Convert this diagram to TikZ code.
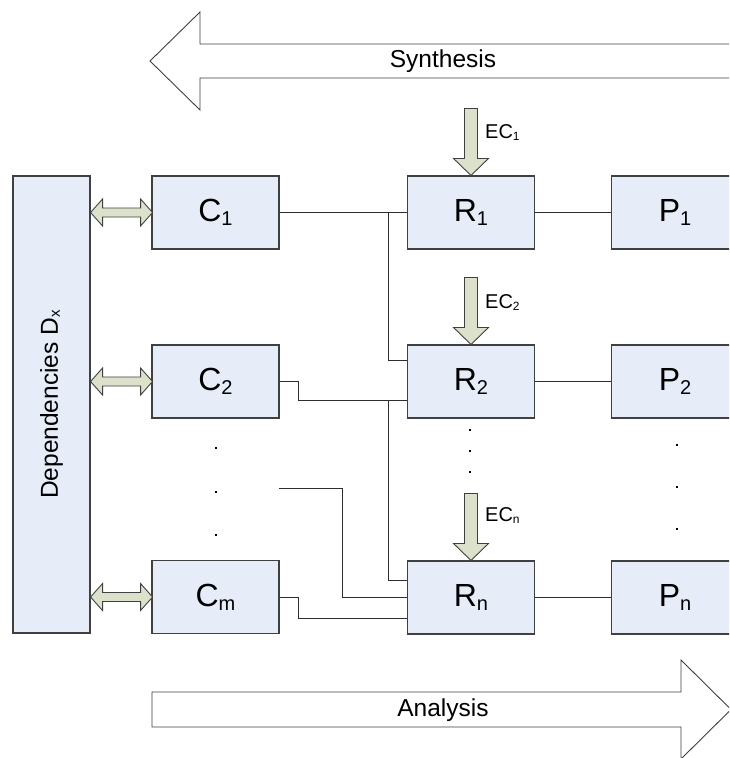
\documentclass[tikz,border=0pt]{standalone}
\usepackage{fontspec}
\setmainfont{Liberation Sans}
\usetikzlibrary{calc}
\definecolor{boxfill}{RGB}{230,236,248}
\definecolor{boxline}{RGB}{64,64,64}
\definecolor{arrfill}{RGB}{220,225,203}
\definecolor{lncol}{RGB}{45,45,45}
\newcommand\bsub[1]{\raisebox{-4pt}{\fontsize{20}{20}\selectfont #1}}
\newcommand\esub[1]{\raisebox{-2pt}{\fontsize{12}{12}\selectfont #1}}
\newcommand\dsub[1]{\raisebox{-2pt}{\fontsize{15}{15}\selectfont #1}}
\begin{document}
\begin{tikzpicture}[x=1pt,y=-1pt,
  box/.style={draw=boxline, fill=boxfill, line width=1.1pt, minimum width=127pt,
    minimum height=73pt, inner sep=0pt, font=\fontsize{32}{33}\selectfont},
  conn/.style={draw=lncol, line width=1pt},
  bigarrow/.style={draw=boxline, fill=white, line width=0.9pt},
  smallarrow/.style={draw=boxline, fill=arrfill, line width=0.9pt},
  eclabel/.style={font=\fontsize{20}{22}\selectfont, inner sep=0pt, anchor=west},
  biglabel/.style={font=\fontsize{24.5}{26}\selectfont, inner sep=0pt},
  ecarrow/.pic={\draw[smallarrow] (0,0) -- (17.5,-17) -- (6.5,-17) -- (6.5,-67)
      -- (-6.5,-67) -- (-6.5,-17) -- (-17.5,-17) -- cycle;},
  dblarrow/.pic={\draw[smallarrow] (0,0) -- (12,-13.5) -- (12,-4.5) -- (50,-4.5)
      -- (50,-13.5) -- (62,0) -- (50,13.5) -- (50,4.5) -- (12,4.5) -- (12,13.5) -- cycle;},
  dotmark/.style={fill=black}
]
\useasboundingbox (0,0) rectangle (729,758);
\clip (0,0) rectangle (729,758);
\fill[white] (0,0) rectangle (729,758);

% Synthesis arrow
\draw[bigarrow] (745,44) -- (200,44) -- (200,12) -- (150,61) -- (200,110) -- (200,78) -- (745,78);
\node[biglabel] (syn) at (443,61) {Synthesis};

% Analysis arrow
\draw[bigarrow] (152,692) -- (681,692) -- (681,660) -- (731,709.5) -- (681,759) -- (681,727) -- (152,727) -- cycle;
\node[biglabel] (ana) at (443,710) {Analysis};

% Dependencies
\node[box, minimum width=77pt, minimum height=457pt] (D) at (51.5,404.5) {};
\node[biglabel, rotate=90] (Dlab) at (D.center) {Dependencies D\dsub{x}};

% C column
\node[box] (C1) at (215.5,212.5) {C\bsub{1}};
\node[box] (C2) at (215.5,381.5) {C\bsub{2}};
\node[box] (Cm) at (215.5,597) {C\bsub{m}};

% R column
\node[box] (R1) at (471,212.5) {R\bsub{1}};
\node[box] (R2) at (471,381.5) {R\bsub{2}};
\node[box] (Rn) at (471,597.5) {R\bsub{n}};

% P column
\node[box] (P1) at (675,212.5) {P\bsub{1}};
\node[box] (P2) at (675,381.5) {P\bsub{2}};
\node[box] (Pn) at (675,597.5) {P\bsub{n}};

% double arrows
\pic at (D.east |- C1.west) {dblarrow};
\pic at (D.east |- C2.west) {dblarrow};
\pic at (D.east |- Cm.west) {dblarrow};

% EC arrows
\pic at (R1.north) {ecarrow};
\pic at (R2.north) {ecarrow};
\pic at (Rn.north) {ecarrow};
\node[eclabel] (ec1) at ([xshift=14pt,yshift=43pt]R1.north) {EC\esub{1}};
\node[eclabel] (ec2) at ([xshift=14pt,yshift=42pt]R2.north) {EC\esub{2}};
\node[eclabel] (ecn) at ([xshift=14pt,yshift=45pt]Rn.north) {EC\esub{n}};

% connectors
\coordinate (j1) at (388,212.5);
\coordinate (j2) at (388,400);
\coordinate (free) at (279,488);
\draw[conn] (C1.east) -- (R1.west);
\draw[conn] (j1) |- ([yshift=-16pt]R2.north west);
\draw[conn] (C2.east) -- ++(19,0) |- ([yshift=18pt]R2.south west);
\draw[conn] (j2) |- ([yshift=17pt]Rn.west);
\draw[conn] (free) -- (342,488) |- (Rn.west);
\draw[conn] (Cm.east) -- ++(19,0) |- ([yshift=-21pt]Rn.west);
\draw[conn] (R1.east) -- (P1.west);
\draw[conn] (R2.east) -- (P2.west);
\draw[conn] (Rn.east) -- (Pn.west);

% dots
\foreach \y in {448,492,535} \fill[dotmark] ({216-1.4},{\y-1.4}) rectangle ++(2.8,2.8);
\foreach \y in {430,451,472} \fill[dotmark] ({470-1.4},{\y-1.4}) rectangle ++(2.8,2.8);
\foreach \y in {445,487,529} \fill[dotmark] ({677-1.4},{\y-1.4}) rectangle ++(2.8,2.8);
\end{tikzpicture}
\end{document}
